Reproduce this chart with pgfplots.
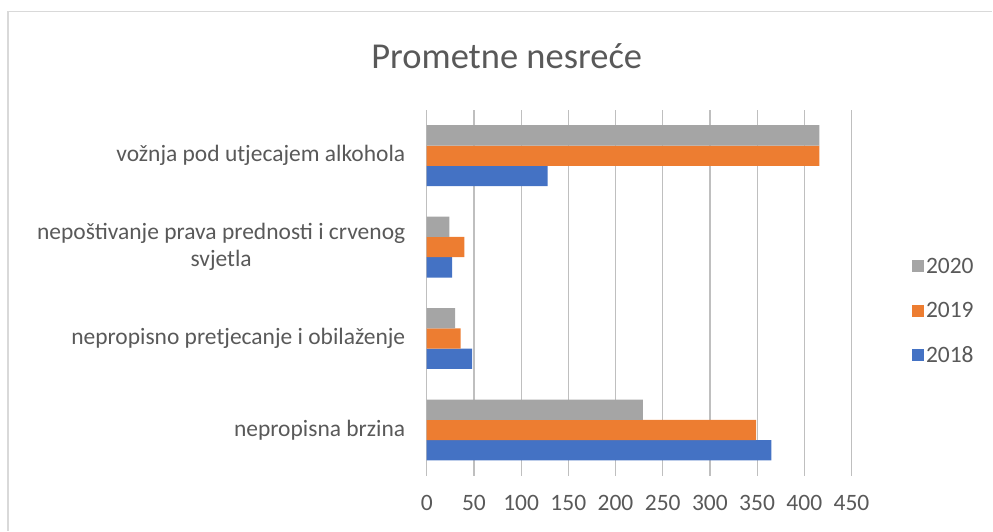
\documentclass[border=0pt]{standalone}
\usepackage{pgfplots}
\pgfplotsset{compat=1.18}
\usepackage{fontspec}
\setmainfont{Carlito}
\definecolor{s18}{HTML}{4472C4}
\definecolor{s19}{HTML}{ED7D31}
\definecolor{s20}{HTML}{A5A5A5}
\definecolor{txt}{HTML}{595959}
\definecolor{grid}{HTML}{D9D9D9}
\begin{document}
\begin{tikzpicture}[x=1pt,y=1pt]
\path (0,0) rectangle (993,531);
\draw[grid,line width=1.2pt] (8,0) -- (8,519.5) -- (993,519.5);
\node[txt,font=\fontsize{36.5}{42}\selectfont] at (507,475) {Prometne nesreće};
\begin{axis}[at={(427pt,55pt)},anchor=south west,scale only axis,
  width=425pt,height=366pt,
  xbar,xmin=0,xmax=450,ymin=-0.5,ymax=3.5,
  axis line style={draw=none},
  xtick={0,50,...,450},ytick={0,1,2,3},
  yticklabels={nepropisna brzina,nepropisno pretjecanje i obilaženje,
    {nepoštivanje prava prednosti i crvenog\\svjetla},vožnja pod utjecajem alkohola},
  tick style={draw=none},major tick length=0pt,
  xmajorgrids,ymajorgrids=false,major grid style={grid,line width=1.2pt},
  tick label style={txt,font=\fontsize{23.5}{27}\selectfont},
  yticklabel style={align=center,xshift=-18pt},
  xticklabel style={yshift=-16pt},
  /pgf/number format/assume math mode=true,
  bar width=20.3pt,
  legend style={draw=none,at={(1.135,0.45)},anchor=west,
    font=\fontsize{23.5}{27}\selectfont,text=txt,row sep=23.5pt},
  legend cell align=left,reverse legend,
  legend image code/.code={\fill[#1] (0pt,-6pt) rectangle (12pt,6pt);},
]
\addplot[fill=s18,draw=none,bar shift=-20.3pt] coordinates {(365,0) (48,1) (27,2) (128,3)};
\addplot[fill=s19,draw=none,bar shift=0pt] coordinates {(349,0) (36,1) (40,2) (416,3)};
\addplot[fill=s20,draw=none,bar shift=20.3pt] coordinates {(229,0) (30,1) (24,2) (416,3)};
\legend{2018,2019,2020}
\end{axis}
\end{tikzpicture}
\end{document}
